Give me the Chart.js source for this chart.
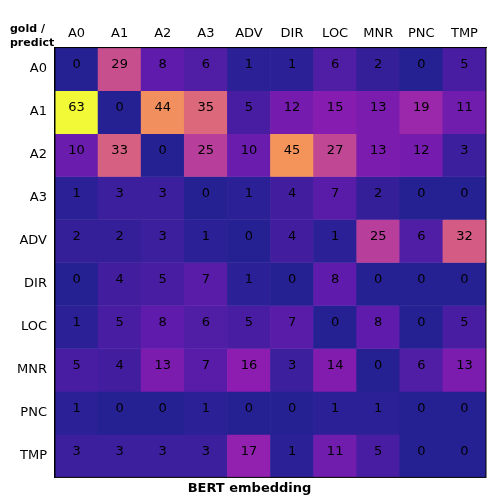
<!DOCTYPE html>
<html>
<head>
<script src="https://cdn.jsdelivr.net/npm/chart.js@4"></script>
<style>body{margin:0;background:#fff}#wrap{width:500px;height:500px}</style>
</head>
<body>
<div id="wrap"><canvas id="c"></canvas></div>
<script>
const predictLabels = ["A0", "A1", "A2", "A3", "ADV", "DIR", "LOC", "MNR", "PNC", "TMP"];
const goldLabels = ["A0", "A1", "A2", "A3", "ADV", "DIR", "LOC", "MNR", "PNC", "TMP"];
const rowA0 = [0, 29, 8, 6, 1, 1, 6, 2, 0, 5];
const rowA1 = [63, 0, 44, 35, 5, 12, 15, 13, 19, 11];
const rowA2 = [10, 33, 0, 25, 10, 45, 27, 13, 12, 3];
const rowA3 = [1, 3, 3, 0, 1, 4, 7, 2, 0, 0];
const rowADV = [2, 2, 3, 1, 0, 4, 1, 25, 6, 32];
const rowDIR = [0, 4, 5, 7, 1, 0, 8, 0, 0, 0];
const rowLOC = [1, 5, 8, 6, 5, 7, 0, 8, 0, 5];
const rowMNR = [5, 4, 13, 7, 16, 3, 14, 0, 6, 13];
const rowPNC = [1, 0, 0, 1, 0, 0, 1, 1, 0, 0];
const rowTMP = [3, 3, 3, 3, 17, 1, 11, 5, 0, 0];
const rows = [rowA0, rowA1, rowA2, rowA3, rowADV, rowDIR, rowLOC, rowMNR, rowPNC, rowTMP];

// plasma colormap stops
const stops = ["#0d0887", "#4c02a1", "#7e03a8", "#a92395", "#cc4778", "#e56b5d", "#f89441", "#fdc328", "#f0f921"];
function hex(h) { return [1, 3, 5].map(i => parseInt(h.substr(i, 2), 16)); }
function plasma(t) {
  const p = t * (stops.length - 1), i = Math.min(Math.floor(p), stops.length - 2), f = p - i;
  const a = hex(stops[i]), b = hex(stops[i + 1]);
  const c = a.map((v, k) => v + (b[k] - v) * f);
  const al = 0.9; // blend with white
  return "rgb(" + c.map(v => Math.round(v * al + 255 * (1 - al))).join(",") + ")";
}
const vmax = Math.max(...rows.flat());

const datasets = rows.map((row, r) => ({
  label: goldLabels[r],
  data: row.map(() => [r, r + 1]),
  backgroundColor: row.map(v => plasma(v / vmax)),
  borderWidth: 0,
  barPercentage: 1,
  categoryPercentage: 1,
  grouped: false
}));

const cellText = {
  id: "cellText",
  afterDatasetsDraw(chart) {
    const ctx = chart.ctx, x = chart.scales.x, y = chart.scales.y;
    ctx.save();
    ctx.font = "13px 'DejaVu Sans'";
    ctx.fillStyle = "#000";
    ctx.textAlign = "center";
    ctx.textBaseline = "middle";
    rows.forEach((row, r) => row.forEach((v, c) => {
      ctx.fillText(String(v), x.getPixelForValue(c), y.getPixelForValue(r + 0.5) - 4);
    }));
    ctx.font = "bold 11px 'DejaVu Sans'";
    ctx.textAlign = "left";
    ctx.fillText("gold /", 10, 29);
    ctx.fillText("predict", 10, 43);
    const a = chart.chartArea;
    ctx.strokeStyle = "#000";
    ctx.lineWidth = 1;
    ctx.strokeRect(a.left, a.top, a.right - a.left, a.bottom - a.top);
    ctx.restore();
  }
};

new Chart(document.getElementById("c"), {
  type: "bar",
  data: { labels: predictLabels, datasets },
  options: {
    responsive: true,
    maintainAspectRatio: false,
    animation: false,
    layout: { padding: { left: 13, right: 14, top: 24, bottom: 2 } },
    plugins: {
      legend: { display: false },
      tooltip: { enabled: false },
      title: { display: true, text: "BERT embedding", position: "bottom", color: "#000",
        font: { family: "DejaVu Sans", size: 13, weight: "bold" }, padding: { top: 3, bottom: 2 } }
    },
    scales: {
      x: {
        position: "top",
        offset: true,
        grid: { display: false, drawTicks: true, tickLength: 4, tickColor: "#000" },
        border: { color: "#000" },
        ticks: { color: "#000", font: { family: "DejaVu Sans", size: 13 }, padding: 2 }
      },
      y: {
        type: "linear",
        reverse: true,
        min: 0,
        max: 10,
        afterBuildTicks(s) { s.ticks = goldLabels.map((_, i) => ({ value: i + 0.5 })); },
        grid: { display: false, drawTicks: true, tickLength: 4, tickColor: "#000" },
        border: { color: "#000" },
        ticks: { color: "#000", font: { family: "DejaVu Sans", size: 13 }, padding: 4,
          callback: v => goldLabels[Math.floor(v)] }
      }
    }
  },
  plugins: [cellText]
});
</script>
</body>
</html>
